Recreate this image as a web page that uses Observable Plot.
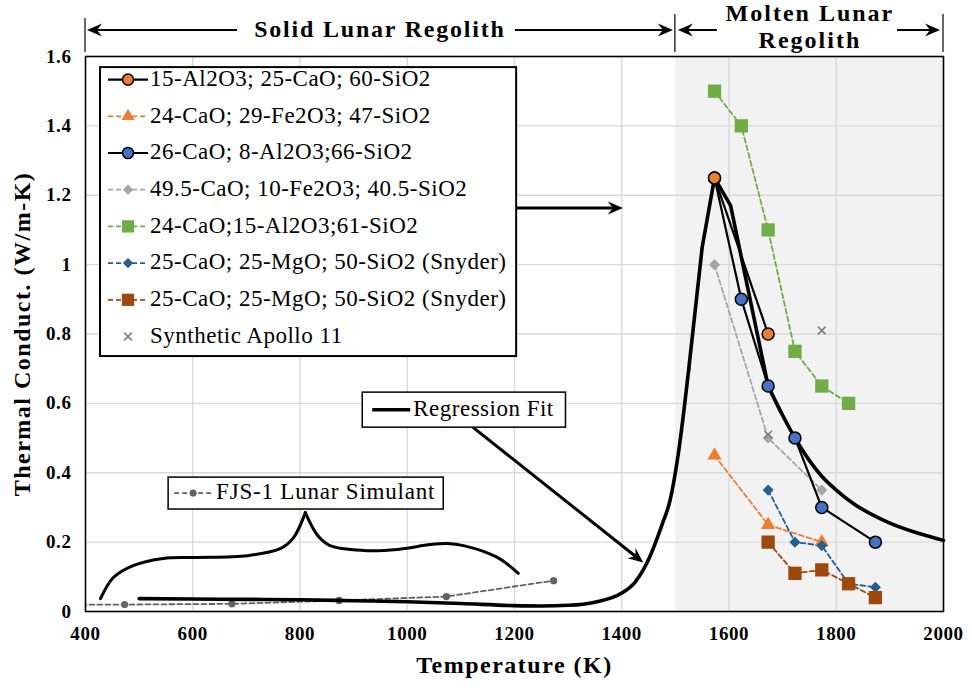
<!DOCTYPE html>
<html><head><meta charset="utf-8">
<script src="https://cdn.jsdelivr.net/npm/d3@7"></script>
<script src="https://cdn.jsdelivr.net/npm/@observablehq/plot@0.6"></script>
<style>
body{margin:0;background:#fff;}
#wrap{position:relative;width:972px;height:691px;}
#wrap svg{position:absolute;left:0;top:0;}
</style></head><body><div id="wrap"></div>
<script>
const FONT = "'Liberation Serif', 'DejaVu Serif', serif";

// ---- tick labels ----
const xTicks = [400, 600, 800, 1000, 1200, 1400, 1600, 1800, 2000];
const yTicks = [0, 0.2, 0.4, 0.6, 0.8, 1.0, 1.2, 1.4, 1.6];

// ---- data ----
const regT = [500,600,700,800,900,1000,1100,1200,1250,1300,1350,1400,1425,1450,1475,1490,1505,1525,1550,1573,1603,1673,1700,1727,1750,1773,1800,1833,1866,1900,1950,2000];
const regK = [0.037,0.036,0.035,0.034,0.031,0.028,0.023,0.017,0.016,0.018,0.027,0.053,0.085,0.15,0.25,0.32,0.45,0.70,1.05,1.25,1.17,0.65,0.565,0.49,0.435,0.39,0.35,0.31,0.28,0.255,0.227,0.205];

const fjsT = [273, 473, 673, 873, 1073, 1273];
const fjsK = [0.019, 0.020, 0.022, 0.032, 0.043, 0.089];

const s1Name = "15-Al2O3; 25-CaO; 60-SiO2";
const s1T = [1573, 1673];
const s1K = [1.25, 0.80];

const s2Name = "24-CaO; 29-Fe2O3; 47-SiO2";
const s2T = [1573, 1673, 1773];
const s2K = [0.45, 0.25, 0.20];

const s3Name = "26-CaO; 8-Al2O3;66-SiO2";
const s3T = [1573, 1623, 1673, 1723, 1773, 1873];
const s3K = [1.25, 0.90, 0.65, 0.50, 0.30, 0.20];

const s4Name = "49.5-CaO; 10-Fe2O3; 40.5-SiO2";
const s4T = [1573, 1673, 1773];
const s4K = [1.00, 0.50, 0.35];

const s5Name = "24-CaO;15-Al2O3;61-SiO2";
const s5T = [1573, 1623, 1673, 1723, 1773, 1823];
const s5K = [1.50, 1.40, 1.10, 0.75, 0.65, 0.60];

const s6Name = "25-CaO; 25-MgO; 50-SiO2 (Snyder)";
const s6T = [1673, 1723, 1773, 1823, 1873];
const s6K = [0.35, 0.20, 0.19, 0.08, 0.07];

const s7Name = "25-CaO; 25-MgO; 50-SiO2 (Snyder)";
const s7T = [1673, 1723, 1773, 1823, 1873];
const s7K = [0.20, 0.11, 0.12, 0.08, 0.04];

const s8Name = "Synthetic Apollo 11";
const s8T = [1673, 1773];
const s8K = [0.51, 0.81];

const regName = "Regression Fit";
const fjsName = "FJS-1 Lunar Simulant";

// ---- styles (kept apart from data) ----
const styles = [
  {line: "black", lw: 2.2, dash: null, symbol: "circle", fill: "#ED7D31", stroke: "black", sw: 1.5, r: 6},
  {line: "#ED7D31", lw: 1.8, dash: "5,3", symbol: "triangle", fill: "#ED7D31", stroke: "none", sw: 0, r: 5.3},
  {line: "black", lw: 2.2, dash: null, symbol: "circle", fill: "#4472C4", stroke: "black", sw: 1.5, r: 6},
  {line: "#A5A5A5", lw: 1.8, dash: "5,3", symbol: "diamond2", fill: "#A5A5A5", stroke: "none", sw: 0, r: 5},
  {line: "#70AD47", lw: 1.8, dash: "5,3", symbol: "square", fill: "#70AD47", stroke: "none", sw: 0, r: 7.5},
  {line: "#255E91", lw: 1.8, dash: "5,3", symbol: "diamond2", fill: "#255E91", stroke: "none", sw: 0, r: 5},
  {line: "#9E480E", lw: 1.8, dash: "5,3", symbol: "square", fill: "#9E480E", stroke: "none", sw: 0, r: 7.5},
  {line: null, lw: 0, dash: null, symbol: "times", fill: "none", stroke: "#7F7F7F", sw: 1.6, r: 3.6}
];

const seriesData = [
  [s1Name, s1T, s1K], [s2Name, s2T, s2K], [s3Name, s3T, s3K], [s4Name, s4T, s4K],
  [s5Name, s5T, s5K], [s6Name, s6T, s6K], [s7Name, s7T, s7K], [s8Name, s8T, s8K]
];
const rowsOf = (T, K) => T.map((t, i) => ({T: t, K: K[i]}));

// ---- annotation geometry (data coordinates) ----
const moltenRange = [1500, 2000];
const legendBox = {x1: 428, x2: 1204, y1: 1.568, y2: 0.735};
const legendArrow = {x1: 1204, x2: 1403, y: 1.162};
const regBox = {x1: 917, x2: 1296, y1: 0.631, y2: 0.530};
const regArrow = {x1: 1123, y1: 0.53, x2: 1441, y2: 0.14};
const fjsBox = {x1: 555, x2: 1068, y1: 0.386, y2: 0.294};
const braceLeftT  = [428, 452, 490, 545, 601, 702, 764, 788, 810];
const braceLeftK  = [0.037, 0.098, 0.133, 0.153, 0.156, 0.161, 0.182, 0.213, 0.285];
const braceRightT = [810, 833, 856, 918, 982, 1043, 1075, 1105, 1168, 1207];
const braceRightK = [0.285, 0.219, 0.19, 0.176, 0.179, 0.193, 0.196, 0.19, 0.156, 0.11];

// ---- marks ----
const regRows = rowsOf(regT, regK);
const iA = regT.indexOf(1525), iB = regT.indexOf(1673);
const marks = [
  Plot.rect([moltenRange], {x1: d => d[0], x2: d => d[1], y1: 0, y2: 1.6, fill: "#F2F2F2"}),
  Plot.gridX(xTicks.slice(1, -1), {stroke: "#D9D9D9", strokeOpacity: 1, strokeWidth: 1.4}),
  Plot.gridY(yTicks.slice(1, -1), {stroke: "#D9D9D9", strokeOpacity: 1, strokeWidth: 1.4}),
  Plot.line(rowsOf(fjsT, fjsK), {x: "T", y: "K", stroke: "#636363", strokeWidth: 1.8, strokeDasharray: "5,3", clip: true}),
  Plot.dot(rowsOf(fjsT, fjsK), {x: "T", y: "K", fill: "#636363", r: 3.6, clip: true}),
  Plot.line(regRows.slice(0, iA + 1), {x: "T", y: "K", stroke: "black", strokeWidth: 3.6, curve: "monotone-x"}),
  Plot.line(regRows.slice(iA, iB + 1), {x: "T", y: "K", stroke: "black", strokeWidth: 3.6, strokeLinejoin: "round"}),
  Plot.line(regRows.slice(iB), {x: "T", y: "K", stroke: "black", strokeWidth: 3.6, curve: "monotone-x"})
];
const drawOrder = [4, 3, 1, 5, 6, 2, 0, 7];
for (const i of drawOrder) {
  const [, T, K] = seriesData[i];
  const s = styles[i];
  if (s.line) marks.push(Plot.line(rowsOf(T, K), {x: "T", y: "K", stroke: s.line, strokeWidth: s.lw, strokeDasharray: s.dash}));
}
for (const i of drawOrder) {
  const [, T, K] = seriesData[i];
  const s = styles[i];
  marks.push(Plot.dot(rowsOf(T, K), {x: "T", y: "K", symbol: () => s.symbol, r: s.r, fill: s.fill, stroke: s.stroke, strokeWidth: s.sw}));
}
// brace below FJS label
marks.push(Plot.line(rowsOf(braceLeftT, braceLeftK), {x: "T", y: "K", stroke: "black", strokeWidth: 3, curve: "catmull-rom"}));
marks.push(Plot.line(rowsOf(braceRightT, braceRightK), {x: "T", y: "K", stroke: "black", strokeWidth: 3, curve: "catmull-rom"}));
marks.push(Plot.frame({stroke: "black", strokeWidth: 1.6}));
marks.push(Plot.axisX({ticks: xTicks, tickSize: 0, tickPadding: 15, fontSize: 19, fontWeight: "bold", label: null,
  tickFormat: d => String(d)}));
marks.push(Plot.axisY({ticks: yTicks, tickSize: 0, tickPadding: 14, fontSize: 19, fontWeight: "bold", label: null,
  tickFormat: d => String(+d.toFixed(1))}));
marks.push(Plot.text(["Temperature (K)"], {frameAnchor: "bottom", dy: 61, fontSize: 24, fontWeight: "bold"}));
marks.push(Plot.text(["Thermal Conduct. (W/m-K)"], {frameAnchor: "left", dx: -63, rotate: -90, textAnchor: "middle", fontSize: 24, fontWeight: "bold"}));

const plot = Plot.plot({
  width: 972, height: 691,
  marginLeft: 85, marginRight: 29, marginTop: 56, marginBottom: 80,
  x: {domain: [400, 2000]},
  y: {domain: [0, 1.6]},
  style: {fontFamily: FONT, color: "black", background: "white"},
  marks
});
document.getElementById("wrap").appendChild(plot);
// widen text to the reference's wider serif
d3.select(plot).selectAll('g[aria-label="x-axis tick label"] text, g[aria-label="y-axis tick label"] text')
  .style("letter-spacing", "0.6px");
d3.select(plot).selectAll('g[aria-label="text"] text').style("letter-spacing", "1.5px");

// ---- overlay annotations through the plot's scales ----
const X = v => plot.scale("x").apply(v);
const Y = v => plot.scale("y").apply(v);
const svg = d3.select("#wrap").append("svg").attr("width", 972).attr("height", 691)
  .style("font-family", FONT).style("pointer-events", "none");

function head(x, y, ang) {
  svg.append("path").attr("d", "M0,0 L-15,-6.5 L-10,0 L-15,6.5 Z")
    .attr("transform", `translate(${x},${y}) rotate(${ang})`).attr("fill", "black");
}
function arrow(x1, y1, x2, y2, w) {
  const ang = Math.atan2(y2 - y1, x2 - x1);
  const ex = x2 - Math.cos(ang) * 10, ey = y2 - Math.sin(ang) * 10;
  svg.append("line").attr("x1", x1).attr("y1", y1).attr("x2", ex).attr("y2", ey)
    .attr("stroke", "black").attr("stroke-width", w);
  head(x2, y2, ang * 180 / Math.PI);
}

// header
const hy = 30;
const xl = X(400), xm = X(1500), xr = X(2000);
[[xl, 18], [xm, 14], [xr, 14]].forEach(([x, t]) =>
  svg.append("line").attr("x1", x).attr("x2", x).attr("y1", t).attr("y2", 52).attr("stroke", "black").attr("stroke-width", 1.2));
svg.append("text").attr("x", (xl + xm) / 2).attr("y", hy + 1).attr("text-anchor", "middle").attr("dominant-baseline", "middle")
  .attr("font-size", 24).attr("font-weight", "bold").style("letter-spacing", "1.8px").text("Solid Lunar Regolith");
arrow(xl + 152, hy, xl + 2, hy, 2);
arrow(xm - 160, hy, xm - 2, hy, 2);
const mc = (xm + xr) / 2 + 1;
svg.append("text").attr("x", mc).attr("y", 15).attr("text-anchor", "middle").attr("dominant-baseline", "middle")
  .attr("font-size", 24).attr("font-weight", "bold").style("letter-spacing", "2px").text("Molten Lunar");
svg.append("text").attr("x", mc).attr("y", 42).attr("text-anchor", "middle").attr("dominant-baseline", "middle")
  .attr("font-size", 24).attr("font-weight", "bold").style("letter-spacing", "2px").text("Regolith");
arrow(xm + 42, hy, xm + 3, hy, 2);
arrow(xr - 46, hy, xr - 3, hy, 2);

// legend box
const lx = X(legendBox.x1), lx2 = X(legendBox.x2), ly = Y(legendBox.y1), ly2 = Y(legendBox.y2);
svg.append("rect").attr("x", lx).attr("y", ly).attr("width", lx2 - lx).attr("height", ly2 - ly)
  .attr("fill", "white").attr("stroke", "black").attr("stroke-width", 2);
const symMap = {circle: d3.symbolCircle, triangle: d3.symbolTriangle, diamond2: d3.symbolDiamond2, square: d3.symbolSquare, times: d3.symbolTimes};
seriesData.forEach(([name], i) => {
  const s = styles[i];
  const yy = ly + 12.5 + i * 36.7;
  if (s.line) svg.append("line").attr("x1", lx + 8).attr("x2", lx + 48).attr("y1", yy).attr("y2", yy)
    .attr("stroke", s.line).attr("stroke-width", s.lw).attr("stroke-dasharray", s.dash);
  svg.append("path").attr("d", d3.symbol(symMap[s.symbol], Math.PI * s.r * s.r * (s.symbol === "times" ? 1 : 0.85))())
    .attr("transform", `translate(${lx + 28},${yy})`)
    .attr("fill", s.fill).attr("stroke", s.stroke === "none" ? null : s.stroke).attr("stroke-width", s.sw);
  svg.append("text").attr("x", lx + 50).attr("y", yy + 1).attr("dominant-baseline", "middle")
    .attr("font-size", 23).style("letter-spacing", "0.5px").text(name);
});
arrow(lx2, Y(legendArrow.y), X(legendArrow.x2), Y(legendArrow.y), 3);

// regression fit label
const rx = X(regBox.x1), rx2 = X(regBox.x2), ry = Y(regBox.y1), ry2 = Y(regBox.y2);
arrow(X(regArrow.x1), Y(regArrow.y1), X(regArrow.x2), Y(regArrow.y2), 3);
svg.append("rect").attr("x", rx).attr("y", ry).attr("width", rx2 - rx).attr("height", ry2 - ry)
  .attr("fill", "white").attr("stroke", "black").attr("stroke-width", 1.5);
svg.append("line").attr("x1", rx + 10).attr("x2", rx + 48).attr("y1", (ry + ry2) / 2).attr("y2", (ry + ry2) / 2)
  .attr("stroke", "black").attr("stroke-width", 3.5);
svg.append("text").attr("x", rx + 51).attr("y", (ry + ry2) / 2 + 1).attr("dominant-baseline", "middle")
  .attr("font-size", 23).style("letter-spacing", "0.5px").text(regName);

// FJS label
const fx = X(fjsBox.x1), fx2 = X(fjsBox.x2), fy = Y(fjsBox.y1), fy2 = Y(fjsBox.y2);
svg.append("rect").attr("x", fx).attr("y", fy).attr("width", fx2 - fx).attr("height", fy2 - fy)
  .attr("fill", "white").attr("stroke", "black").attr("stroke-width", 1.5);
const fm = (fy + fy2) / 2;
svg.append("line").attr("x1", fx + 6).attr("x2", fx + 46).attr("y1", fm).attr("y2", fm)
  .attr("stroke", "#636363").attr("stroke-width", 1.8).attr("stroke-dasharray", "5,3");
svg.append("circle").attr("cx", fx + 25).attr("cy", fm).attr("r", 3.6).attr("fill", "#636363");
svg.append("text").attr("x", fx + 48).attr("y", fm + 1).attr("dominant-baseline", "middle")
  .attr("font-size", 23).style("letter-spacing", "0.8px").text(fjsName);
</script></body></html>
